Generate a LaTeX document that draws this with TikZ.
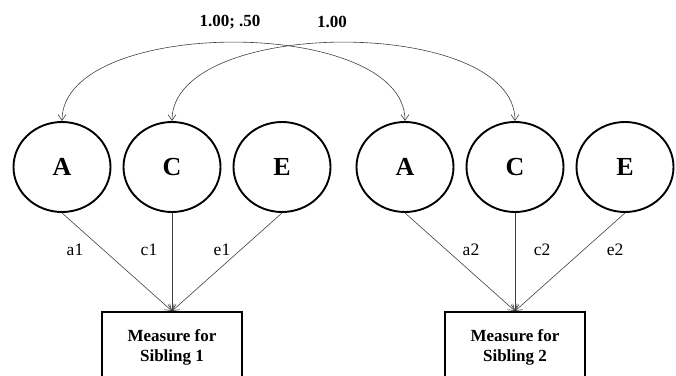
\documentclass[tikz,border=0pt]{standalone}
\usepackage{fontspec}
\setmainfont{Liberation Serif}
\usetikzlibrary{shapes,arrows.meta,positioning}
\tikzset{latent/.style={ellipse,draw,line width=1.9pt,minimum width=97pt,minimum height=90pt,inner sep=0pt,font=\fontsize{26}{30}\selectfont\bfseries}}
\tikzset{measure/.style={rectangle,draw,line width=1.9pt,minimum width=140pt,minimum height=71pt,align=center,font=\fontsize{17}{19.5}\selectfont\bfseries}}
\tikzset{load/.style={draw=black!75,line width=0.6pt,-{Straight Barb[length=6pt,width=8pt]}}}
\tikzset{cov/.style={draw=black!75,line width=0.6pt,{Straight Barb[length=6pt,width=8pt]}-{Straight Barb[length=6pt,width=8pt]}}}
\tikzset{coef/.style={font=\fontsize{17.5}{20}\selectfont}}
\tikzset{corr/.style={font=\fontsize{17}{20}\selectfont\bfseries}}

\begin{document}
\begin{tikzpicture}[x=1pt,y=1pt,node distance=110pt]
    \useasboundingbox (0,0) rectangle (676,375);
    \clip (0,0) rectangle (676,375);

    \node[latent] (a1) at (62,208) {A};
    \node[latent,right of=a1] (c1) {C};
    \node[latent,right of=c1] (e1) {E};
    \node[latent,right of=e1,node distance=123pt] (a2) {A};
    \node[latent,right of=a2] (c2) {C};
    \node[latent,right of=c2] (e2) {E};

    \node[measure,below of=c1,node distance=180.5pt] (m1) {Measure for\\Sibling 1};
    \node[measure,below of=c2,node distance=180.5pt] (m2) {Measure for\\Sibling 2};

    \node[coef] (la1) at (75,125) {a1};
    \node[coef] (lc1) at (149,125) {c1};
    \node[coef] (le1) at (222,125) {e1};
    \node[coef] (la2) at (471,125) {a2};
    \node[coef] (lc2) at (542,125) {c2};
    \node[coef] (le2) at (615,125) {e2};

    \node[corr] (ra) at (230,353) {1.00; .50};
    \node[corr] (rc) at (332,353) {1.00};

        \path[load] (a1.south) -- (m1.north);
        \path[load] (c1.south) -- (m1.north);
        \path[load] (e1.south) -- (m1.north);
        \path[load] (a2.south) -- (m2.north);
        \path[load] (c2.south) -- (m2.north);
        \path[load] (e2.south) -- (m2.north);
        \path[cov] (a1.north) .. controls +(0,105) and +(0,105) .. (a2.north);
        \path[cov] (c1.north) .. controls +(0,105) and +(0,105) .. (c2.north);
\end{tikzpicture}
\end{document}
